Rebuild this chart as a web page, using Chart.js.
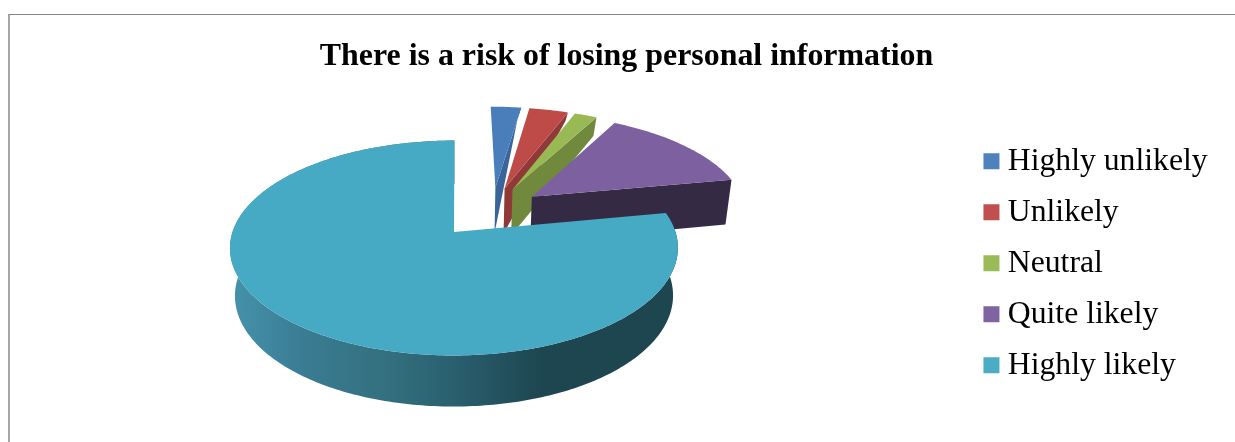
<!DOCTYPE html>
<html><head><meta charset="utf-8">
<style>
html,body{margin:0;padding:0;background:#fff;overflow:hidden}
#frame{position:absolute;left:8px;top:14px;width:1400px;height:600px;border-left:2px solid #a6a6a6;border-top:1px solid #868686}
#wrap{position:absolute;left:0;top:0;width:1235px;height:442px}
</style>
<script src="https://cdn.jsdelivr.net/npm/chart.js@4"></script>
</head><body>
<div id="frame"></div>
<div id="wrap"><canvas id="c" width="1235" height="442"></canvas></div>
<script>
const titleText = "There is a risk of losing personal information";
const categories = ["Highly unlikely","Unlikely","Neutral","Quite likely","Highly likely"];
const shares = [2.67,3.42,1.97,13.97,77.97];
const explosion = [0.235,0.235,0.235,0.235,0.28];
const faceColors = ["#4a7ebb","#be4b48","#98b954","#7d60a0","#46aac4"];
const legendColors = ["#4f81bd","#c0504d","#9bbb59","#8064a2","#4bacc6"];
const wallColors = ["#3b659a","#8f3a38","#71893d","#342a44","#1d4650"];

const CAM = {dx:-46.5, dy:-8.95, A:221, B:104.6, k:0.148, cu:0.165, cv:-0.2, shrink:0.978};

const pie3d = {
  id:'pie3d',
  beforeDatasetDraw(chart,args){
    const {ctx} = chart;
    const meta = chart.getDatasetMeta(0);
    const first = meta.data[0];
    const xh = first.x + CAM.dx, yh = first.y + CAM.dy;
    const top = (u,v)=>{
      const V=v+CAM.cv, U=u+CAM.cu, s=1/(1-CAM.k*V);
      return {x:xh+CAM.A*U*s, y:yh+CAM.B*V*s, V};
    };
    const bottom = (u,v)=>{
      const p=top(u,v);
      const d=Math.max(0,Math.min(47+4*p.V,150*(p.V+1.41)));
      return {x:xh+(p.x-xh)*CAM.shrink, y:p.y+d};
    };
    const poly=(pts,fill)=>{
      ctx.beginPath();
      pts.forEach((p,i)=>i?ctx.lineTo(p.x,p.y):ctx.moveTo(p.x,p.y));
      ctx.closePath();ctx.fillStyle=fill;ctx.fill();
    };
    ctx.save();
    meta.data.forEach((el,i)=>{
      const a0=el.startAngle,a1=el.endAngle,mid=(a0+a1)/2,e=el.options.offset;
      const ou=e*Math.cos(mid),ov=e*Math.sin(mid);
      const n=Math.max(8,Math.round((a1-a0)*60));
      const rim=[];
      for(let j=0;j<=n;j++){const a=a0+(a1-a0)*j/n;rim.push([ou+Math.cos(a),ov+Math.sin(a)]);}
      if(i<categories.length-1){
        const last=rim[rim.length-1];
        poly([top(ou,ov),top(last[0],last[1]),bottom(last[0],last[1]),bottom(ou,ov)],wallColors[i]);
      } else {
        const g=ctx.createLinearGradient(232,0,676,0);
        g.addColorStop(0,"#4592ab");g.addColorStop(0.16,"#3a7c93");g.addColorStop(0.35,"#33707f");
        g.addColorStop(0.5,"#2a5f6e");g.addColorStop(0.7,"#1d4650");g.addColorStop(1,"#1d4650");
        const visible=rim.map(p=>top(p[0],p[1])).concat(rim.slice().reverse().map(p=>bottom(p[0],p[1])));
        poly(visible,g);
      }
      poly([top(ou,ov)].concat(rim.map(p=>top(p[0],p[1]))),faceColors[i]);
    });
    ctx.restore();
    return false;
  }
};

new Chart(document.getElementById('c'),{
  type:'pie',
  data:{labels:categories,datasets:[{data:shares,backgroundColor:legendColors,offset:explosion,borderWidth:0}]},
  plugins:[pie3d],
  options:{
    responsive:false,animation:false,
    layout:{padding:{left:35.4,right:17.4,top:0,bottom:41.5}},
    plugins:{
      tooltip:{enabled:false},
      title:{display:true,text:titleText,color:"#000",
        font:{family:"'Liberation Serif'",size:31.9,weight:'bold',lineHeight:1.2},
        padding:{top:38,bottom:2}},
      legend:{position:'right',align:'end',
        labels:{boxWidth:1,boxHeight:1,padding:19.3,color:"#000",
          font:{family:"'Liberation Serif'",size:31.7,lineHeight:1.2},
          generateLabels:()=>categories.map((t,i)=>({text:t,fillStyle:legendColors[i],strokeStyle:legendColors[i],lineWidth:15,hidden:false,index:i,fontColor:"#000"}))}}
    }
  }
});
</script>
</body></html>
